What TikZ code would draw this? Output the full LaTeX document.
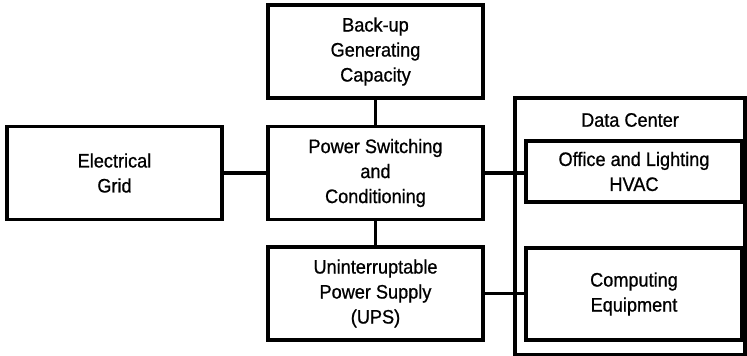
\documentclass[tikz,border=0pt]{standalone}
\usepackage{fontspec}
\setmainfont{Liberation Sans}[FakeStretch=0.93, FakeBold=0.8]
\begin{document}
\begin{tikzpicture}[x=1pt, y=-1pt, line width=3.3pt,
    every node/.style={draw, rectangle, align=center, font=\fontsize{19.5}{25}\selectfont, inner sep=0pt},
    block/.style={minimum width=215pt, minimum height=93pt}]
        \useasboundingbox (0,0) rectangle (747,356);
        % centres of the blocks (pixels, y downwards)
        \coordinate (c1) at (375.5,51.5);
        \coordinate (c2) at (114.5,173);
        \coordinate (c3) at (375.5,173);
        \coordinate (c4) at (375.5,293.5);
        \coordinate (c5) at (634,171.5);
        \coordinate (c6) at (634,294);
        % data center frame
        \draw (515,355) -- (515,98) -- (745,98) -- (745,355) -- cycle;
        \node[draw=none] (dc) at (630,120) {Data Center};
        \node[block] (backup) at (c1) {Back-up\\Generating\\Capacity};
        \node[block] (grid) at (c2) {Electrical\\Grid};
        \node[block] (power) at (c3) {Power Switching\\and\\Conditioning};
        \node[block] (ups) at (c4) {Uninterruptable\\Power Supply\\(UPS)};
        \node[block, minimum width=216pt, minimum height=61pt] (office) at (c5) {Office and Lighting\\HVAC};
        \node[block, minimum width=216pt, minimum height=92pt] (comp) at (c6) {Computing\\Equipment};
        \draw (backup)--(power);
        \draw (power)--(ups);
        \draw (grid)--(power);
        \draw (power.east)--(office.west |- power.east);
        \draw (ups.east)--(comp.west |- ups.east);
    \end{tikzpicture}
\end{document}
